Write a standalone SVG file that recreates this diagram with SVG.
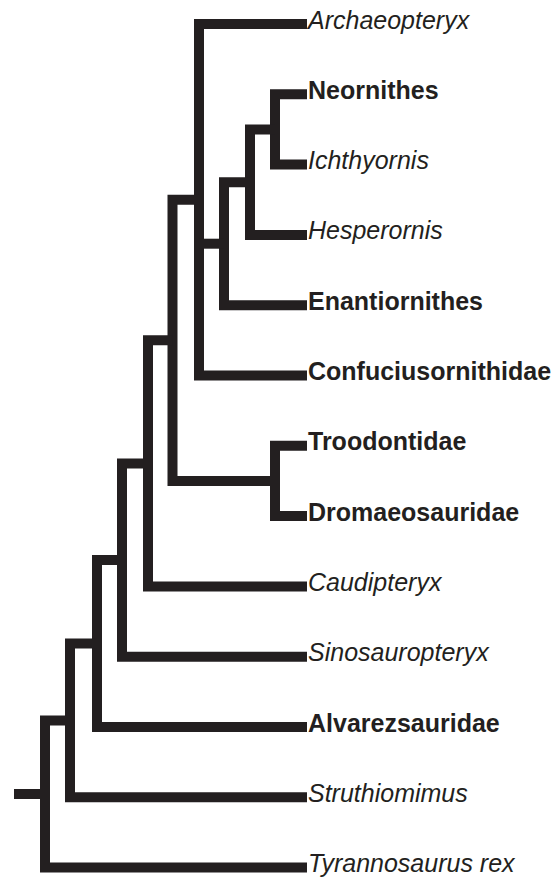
<svg xmlns="http://www.w3.org/2000/svg" width="556" height="877" viewBox="0 0 556 877">
<style>
.br{fill:none;stroke:#231f20;stroke-width:10;stroke-linejoin:miter;stroke-linecap:butt}
.lb{font-family:"Liberation Sans",Arial,sans-serif;font-size:25px;fill:#231f20}
.it{font-style:italic}
.bd{font-weight:bold}
</style>
<rect width="556" height="877" fill="#ffffff"/>
<g id="connectors">
<path class="br" d="M307,94.3 H275 V164.6 H307"/>
<path class="br" d="M275,129.45 H250 V234.9 H307"/>
<path class="br" d="M250,182.2 H224 V305.2 H307"/>
<path class="br" d="M307,24 H199 V375.5 H307"/>
<path class="br" d="M199,243.7 H224"/>
<path class="br" d="M307,445.8 H275 V516.1 H307"/>
<path class="br" d="M199,199.75 H172.5 V480.95 H275"/>
<path class="br" d="M172.5,340.35 H148 V586.4 H307"/>
<path class="br" d="M148,463.4 H122 V656.7 H307"/>
<path class="br" d="M122,560 H97 V727 H307"/>
<path class="br" d="M97,643.5 H70 V797.3 H307"/>
<path class="br" d="M70,720.4 H45 V867.6 H307"/>
<path class="br" d="M14,794 H45"/>
</g>
<g id="archaeopteryx"><text class="lb it" x="308" y="28.5">Archaeopteryx</text></g>
<g id="neornithes"><text class="lb bd" x="308" y="98.8">Neornithes</text></g>
<g id="ichthyornis"><text class="lb it" x="308" y="169.1">Ichthyornis</text></g>
<g id="hesperornis"><text class="lb it" x="308" y="239.4">Hesperornis</text></g>
<g id="enantiornithes"><text class="lb bd" x="308" y="309.7">Enantiornithes</text></g>
<g id="confuciusornithidae"><text class="lb bd" x="308" y="380">Confuciusornithidae</text></g>
<g id="troodontidae"><text class="lb bd" x="308" y="450.3">Troodontidae</text></g>
<g id="dromaeosauridae"><text class="lb bd" x="308" y="520.6">Dromaeosauridae</text></g>
<g id="caudipteryx"><text class="lb it" x="308" y="590.9">Caudipteryx</text></g>
<g id="sinosauropteryx"><text class="lb it" x="308" y="661.2">Sinosauropteryx</text></g>
<g id="alvarezsauridae"><text class="lb bd" x="308" y="731.5">Alvarezsauridae</text></g>
<g id="struthiomimus"><text class="lb it" x="308" y="801.8">Struthiomimus</text></g>
<g id="tyrannosaurus"><text class="lb it" x="308" y="872.1">Tyrannosaurus rex</text></g>
</svg>
